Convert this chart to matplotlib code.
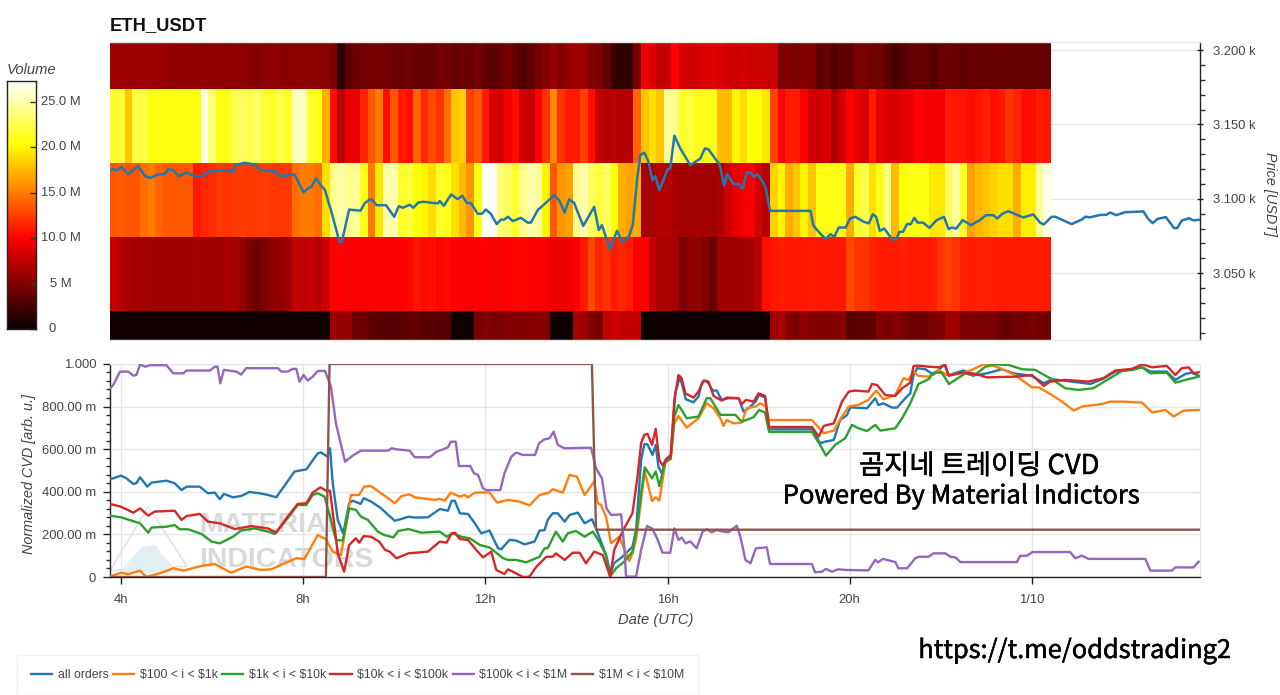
import numpy as np
import matplotlib
matplotlib.use("Agg")
import matplotlib.pyplot as plt
import matplotlib.patheffects as pe
from matplotlib.patches import Polygon
from matplotlib.ticker import FixedLocator, FixedFormatter
from matplotlib.transforms import blended_transform_factory, IdentityTransform

W, H = 1280, 695
plt.rcParams['font.family'] = ['Liberation Sans', 'DejaVu Sans']
plt.rcParams['text.parse_math'] = False

# ---------- heatmap: volume (millions) per 10 minute bin, one list per price band ----------
bin_start = 3.75
bin_hours = 1 / 6
price_edges = [2975, 3024.6, 3074.3, 3124, 3173.8, 3224]

vol_band_1 = [0.3]*29 + [
 6.0,5.5,5.8,4.0,4.0,3.5,3.2,3.0,3.0,3.3,3.5,3.6,3.2,3.2,3.0,3.0,0.3,0.3,0.3,4.5,
 4.8,4.5,4.5,4.8,5.0,5.0,5.0,5.2,4.8,0.3,0.3,0.3,6.5,6.0,5.0,4.5,7.5,8.0,7.5,7.5,
 7.5] + [0.2]*17 + [
 6.0,6.5,5.0,4.5,5.5,5.0,5.0,5.0,5.0,5.2,3.2,3.2,3.5,3.5,5.0,4.5,5.0,4.5,4.0,4.0,
 4.0,4.5,5.0,6.0,6.0,4.5,5.0,4.5,4.5,4.5,3.9,3.8,4.2,4.1,4.5,4.3,4.0]

vol_band_2 = [
 7.5,7.0,6.4,6.2,6.3,6.2,6.0,6.0,6.0,6.0,6.0,6.2,6.0,6.0,6.0,6.5,6.3,5.6,4.6,4.0,
 4.8,5.5,5.5,6.0,7.5,7.3,7.6,7.0,8.0,10.0,10.0,9.8,9.7,9.8,9.9,9.8,9.7,9.8,10.0,10.2,
 10.8,10.4,10.6,10.2,10.4,10.1,10.0,9.9,10.0,10.0,9.8,9.8,10.0,10.1,10.2,10.0,9.9,9.7,9.2,9.2,
 9.4,10.0,11.0,13.0,11.5,12.0,11.0,11.5,11.0,9.8,10.0,7.5,6.5,6.5,6.4,4.5,5.5,5.5,4.8,3.8,
 6.0,6.0,6.0,6.0,6.3,7.0,10.5,10.8,11.0,10.8,11.0,10.8,11.0,10.8,11.0,10.9,10.8,13.0,12.0,12.0,
 11.5,11.0,11.0,11.0,11.2,11.0,11.0,11.0,11.2,12.0,12.5,12.0,11.2,11.0,11.4,11.3,11.2,11.0,11.0,11.1,
 11.0,11.0,11.0,11.0]

vol_band_3 = [
 13.5,13.7,13.4,13.4,14.5,15.0,14.0,13.6,13.6,13.5,13.6,11.0,11.5,11.8,12.2,12.0,12.2,12.4,12.2,12.3,
 12.4,12.2,12.2,12.2,14.5,15.0,15.0,14.5,19.0,24.0,25.0,24.0,24.5,21.0,15.0,19.5,25.0,25.0,21.5,22.0,
 20.5,20.0,19.0,21.5,21.0,19.0,17.5,16.0,21.0,27.0,27.0,23.5,23.0,21.5,24.0,25.0,24.5,20.0,13.5,16.0,
 16.5,24.0,25.0,23.0,22.0,23.0,20.5,17.0,16.5,17.0,6.5,6.5,7.0,7.0,6.5,6.2,6.2,6.3,6.2,6.2,
 6.6,8.0,8.8,9.5,9.8,8.0,7.0,18.5,20.0,17.0,18.0,20.0,18.0,20.7,20.7,20.8,20.8,17.0,21.5,22.5,
 19.0,21.0,24.0,17.5,20.5,21.0,20.8,20.8,19.5,19.5,23.0,24.5,21.5,16.5,17.5,18.0,18.5,19.0,19.0,17.0,
 19.7,19.7,24.5,26.5]

vol_band_4 = [
 21.5,21.8,18.0,22.0,22.0,20.8,20.7,20.6,20.8,20.7,20.7,20.9,26.5,23.5,20.9,20.8,22.5,23.0,22.5,23.2,
 21.8,21.5,22.5,21.5,25.5,25.5,21.5,21.0,17.0,10.5,7.3,9.0,9.0,11.5,13.5,15.0,10.5,13.5,11.0,10.5,
 14.0,11.5,13.0,12.0,14.5,18.0,18.5,12.5,13.5,11.0,8.5,8.0,9.5,10.5,8.0,7.5,10.0,12.0,15.5,12.0,
 11.0,11.0,12.5,10.5,7.5,7.0,7.2,7.0,7.0,14.0,18.0,19.0,18.0,24.5,24.0,21.5,22.0,21.0,21.0,21.0,
 17.5,17.5,20.0,19.0,20.5,20.5,19.5,12.5,10.0,11.0,11.0,10.0,8.0,8.0,8.5,6.5,8.0,10.0,9.0,8.5,
 11.0,9.0,8.5,8.5,8.8,9.0,10.0,9.5,9.5,9.5,11.0,10.8,10.8,10.5,10.8,11.2,10.5,10.8,12.0,11.5,
 10.5,10.5,11.0,10.8]

vol_band_5 = [
 6.0,6.0,5.9,5.9,6.0,5.9,5.9,5.8,5.5,5.6,5.5,5.5,5.4,5.5,5.5,5.4,5.5,5.4,5.2,5.0,
 5.3,5.5,5.3,5.2,5.4,5.3,5.4,5.3,5.3,4.6,1.5,3.4,4.0,4.2,4.4,4.3,4.3,4.1,3.9,4.2,
 3.9,3.7,3.8,4.3,4.2,3.7,4.0,3.9,4.3,3.6,3.2,3.7,4.4,3.6,2.8,3.6,4.3,5.0,5.8,5.0,
 5.8,6.0,6.0,4.8,4.6,3.6,1.9,1.6,1.7,4.3,9.2,8.6,7.4,7.6,10.0,8.2,8.0,8.2,8.6,8.7,
 8.5,8.1,8.0,8.2,8.1,8.0,7.9,7.6,4.6,5.0,4.6,5.0,4.8,3.2,3.8,2.8,3.6,3.6,4.5,4.5,
 4.2,4.2,3.4,2.5,3.0,3.6,3.8,3.8,3.0,3.8,4.0,3.8,3.4,3.7,3.7,3.7,3.8,3.7,3.7,3.7,
 3.8,3.7,3.7,3.7]

# ---------- price ----------
price_t = [3.76,3.83,3.92,4.01,4.16,4.38,4.53,4.64,4.82,4.96,5.04,5.15,5.26,5.44,5.62,5.77,5.95,6.2,6.39,6.45,6.51,6.72,6.93,7.08,7.41,7.5,7.81,8.01,8.1,8.18,8.28,8.39,8.48,8.61,8.72,8.8,8.85,
 9.01,9.26,9.35,9.46,9.53,9.61,9.82,10.0,10.1,10.19,10.34,10.42,10.53,10.63,10.96,11.0,11.09,11.25,11.39,11.5,11.59,11.69,11.83,11.93,12.01,12.12,12.25,12.34,12.41,12.5,12.6,12.78,12.93,13.0,13.15,13.33,13.51,13.62,13.74,13.84,13.95,
 14.01,14.15,14.39,14.49,14.56,14.74,14.89,15.01,15.15,15.24,15.33,15.4,15.49,15.58,15.67,15.73,15.82,16.0,16.06,16.15,16.28,16.5,16.72,16.82,16.9,17.15,17.24,17.31,17.45,17.57,17.65,17.74,17.82,17.9,17.97,18.07,18.15,18.25,19.14,19.2,
 19.27,19.47,19.58,19.66,19.76,19.91,20.01,20.12,20.31,20.42,20.51,20.58,20.66,20.76,20.93,21.02,21.09,21.17,21.26,21.34,21.42,21.49,21.61,21.75,21.91,22.07,22.17,22.24,22.34,22.48,22.66,22.86,22.99,23.15,23.24,23.34,23.48,23.81,24.03,24.18,24.26,24.43,
 24.51,24.87,25.09,25.18,25.27,25.5,25.63,25.72,25.85,26.04,26.45,26.54,26.65,26.76,26.94,27.12,27.19,27.29,27.45,27.54,27.67]
price_v = [3118.6,3120,3119.3,3121.5,3116.6,3122,3115.2,3114,3116.4,3116.6,3120,3119.3,3115.2,3117.7,3115.2,3115.2,3118.6,3118.8,3119.3,3117.7,3122.7,3124.2,3123,3119.3,3118.2,3115.2,3116.4,3104.3,3107,3108,3113.7,3109.2,3105.8,3092.4,3080,3071,3071,
 3092.8,3092,3096.9,3099.6,3099,3095.7,3095.7,3087.9,3095,3094,3096,3094,3097.5,3098,3096.9,3098.5,3095.3,3103,3099.8,3102,3097.3,3096.9,3090,3090,3092.8,3090,3083,3086,3086,3087.9,3085,3087.2,3084,3084,3092.4,3097.3,3102.5,3099,3090.8,3099.6,3097.3,
 3092.4,3081.8,3094.6,3079,3082.3,3066,3078.5,3071,3074.4,3082.7,3112.5,3129.4,3131,3125,3112.5,3115.2,3105.8,3119.7,3120.4,3142.4,3133.9,3122.6,3127.1,3133.9,3133.2,3122.6,3108.7,3116.6,3109.9,3109.9,3107,3117.7,3117.7,3114.8,3116.6,3112.5,3108,3091.9,3091.9,3082.3,
 3079.4,3072.9,3076.2,3074.4,3080.7,3080.7,3086.8,3087.9,3084.5,3083.5,3089.7,3087.9,3078.5,3080,3072.7,3072.7,3077.8,3077.8,3083,3083,3087.2,3084,3084,3080.5,3085.7,3087.9,3079.6,3080.7,3080,3085.7,3082.3,3085.7,3089,3089,3086.8,3089.7,3091.7,3087.5,3089.5,3084,3082.7,3087.9,
 3088,3083,3086,3088,3087.5,3089.2,3089.2,3090.8,3089,3091,3091.5,3087,3083.6,3086.5,3087.7,3080.3,3080.3,3085.4,3087,3085.5,3085.9]

# ---------- normalized CVD per series ----------
all_t = [3.76,3.83,4.0,4.12,4.27,4.34,4.42,4.58,4.67,5.0,5.18,5.33,5.44,5.73,5.91,6.06,6.17,6.26,6.46,6.64,6.82,7.04,7.23,7.41,7.63,7.81,8.07,8.32,8.39,8.53,8.59,8.65,8.76,8.88,9.01,9.09,9.26,9.33,9.49,9.69,
 9.87,10.01,10.2,10.31,10.45,10.74,11.0,11.18,11.26,11.33,11.44,11.62,11.77,11.91,12.09,12.28,12.35,12.53,12.68,12.86,13.08,13.19,13.3,13.37,13.48,13.59,13.74,13.85,14.03,14.18,14.34,14.43,14.58,14.65,14.75,14.82,15.01,15.23,15.31,15.42,15.49,15.56,15.67,15.74,
 15.8,15.88,15.95,16.07,16.17,16.26,16.31,16.4,16.57,16.68,16.75,16.83,16.9,16.99,17.08,17.19,17.34,17.56,17.67,17.78,17.93,18.01,18.14,18.23,19.17,19.35,19.46,19.65,19.79,19.94,20.01,20.38,20.56,20.63,20.74,20.93,21.04,21.22,21.33,21.4,21.48,
 21.66,21.84,22.08,22.17,22.5,22.79,23.01,23.34,23.6,24.0,24.26,24.44,24.88,25.28,25.54,25.83,26.2,26.42,26.6,26.96,27.15,27.37,27.51,27.66]
all_v = [.46,.463,.476,.463,.437,.44,.468,.424,.443,.452,.44,.408,.424,.424,.393,.396,.365,.39,.374,.38,.399,.393,.385,.374,.44,.495,.505,.58,.585,.565,.604,.44,.268,.205,.346,.358,.343,.37,.354,.326,
 .291,.264,.275,.283,.279,.28,.319,.311,.357,.358,.299,.296,.252,.205,.218,.135,.13,.174,.171,.153,.166,.218,.22,.268,.299,.299,.26,.291,.302,.252,.271,.228,.142,.103,.017,.064,.095,.142,.22,.549,.623,.623,.573,.62,
 .518,.484,.549,.573,.862,.933,.912,.834,.82,.847,.909,.922,.909,.875,.875,.831,.839,.839,.776,.792,.823,.854,.843,.693,.693,.628,.635,.643,.737,.76,.796,.792,.839,.807,.815,.795,.795,.839,.862,.948,.98,
 .975,.95,.997,.948,.969,.948,.956,.975,.956,.944,.909,.928,.917,.906,.928,.964,.972,.984,.964,.964,.925,.953,.959,.945]

o_t = [3.76,4.0,4.16,4.42,4.56,4.89,5.15,5.37,5.77,6.06,6.42,6.75,7.08,7.3,7.59,7.85,8.03,8.32,8.5,8.65,8.83,8.94,9.05,9.23,9.34,9.49,9.69,9.87,10.01,10.16,10.34,10.45,10.89,11.0,11.11,11.24,11.44,11.55,11.62,11.77,12.09,12.26,12.5,12.75,12.97,13.19,13.41,13.48,13.7,13.85,14.01,14.18,14.39,14.47,14.54,14.65,14.76,14.94,15.16,15.23,15.31,15.42,15.5,15.66,15.74,15.82,15.95,16.07,16.15,16.24,16.42,16.68,16.86,17.01,17.16,17.23,17.3,17.45,17.63,17.74,17.93,18.04,18.16,18.23,19.17,19.43,19.65,19.83,19.98,20.19,20.41,20.58,20.74,21.0,21.18,21.29,21.4,21.51,21.73,21.95,22.13,22.46,22.68,22.94,23.08,23.3,23.63,24.0,24.15,24.44,24.66,24.92,25.1,25.54,25.72,26.05,26.42,26.64,26.93,27.11,27.33,27.66]
o_v = [.002,.02,.013,.03,0,.02,.041,.03,.052,.061,.02,.049,.033,.036,.064,.088,.085,.197,.177,.119,.103,.236,.385,.385,.424,.427,.396,.369,.346,.38,.388,.374,.362,.367,.358,.396,.377,.385,.374,.396,.397,.349,.362,.354,.336,.385,.397,.412,.396,.479,.471,.385,.448,.346,.338,.283,.158,.189,.075,.111,.174,.362,.495,.357,.374,.358,.534,.557,.721,.756,.701,.745,.815,.792,.745,.709,.737,.721,.725,.792,.8,.815,.8,.737,.737,.675,.687,.753,.8,.808,.831,.875,.834,.854,.933,.925,.964,.944,.94,.972,.948,.956,.972,.998,.998,.98,.948,.89,.89,.854,.823,.781,.8,.812,.823,.823,.818,.772,.784,.753,.781,.784]

g_t = [3.76,4.0,4.42,4.6,4.67,5.0,5.18,5.29,5.47,5.77,5.99,6.17,6.46,6.64,6.93,7.23,7.37,7.66,7.88,8.07,8.21,8.32,8.47,8.61,8.72,8.87,9.01,9.16,9.27,9.42,9.64,9.78,9.98,10.09,10.31,10.6,11.0,11.15,11.29,11.47,11.66,11.88,12.09,12.39,12.5,12.68,12.9,13.19,13.3,13.37,13.55,13.7,13.81,13.99,14.18,14.36,14.5,14.65,14.74,14.87,15.05,15.23,15.34,15.42,15.5,15.66,15.74,15.82,15.95,16.07,16.15,16.24,16.31,16.42,16.68,16.86,16.94,17.16,17.49,17.63,17.89,18.01,18.14,18.23,19.17,19.35,19.48,19.68,19.9,20.05,20.19,20.38,20.56,20.67,21.0,21.15,21.33,21.51,21.73,21.84,22.02,22.18,22.54,22.72,22.98,23.2,23.49,23.78,24.07,24.44,24.73,25.02,25.35,25.65,25.98,26.42,26.6,26.96,27.15,27.37,27.66]
g_v = [.288,.28,.252,.208,.232,.236,.244,.224,.224,.202,.166,.158,.189,.218,.228,.213,.202,.275,.338,.338,.385,.393,.377,.268,.174,.171,.322,.315,.283,.268,.213,.197,.186,.216,.225,.208,.213,.189,.205,.189,.182,.15,.139,.088,.08,.08,.069,.095,.135,.135,.213,.166,.205,.216,.189,.213,.166,.103,.002,.041,.072,.119,.252,.393,.515,.463,.495,.427,.541,.554,.753,.807,.784,.745,.753,.839,.839,.761,.761,.729,.75,.784,.772,.681,.681,.62,.57,.62,.651,.714,.698,.685,.714,.687,.698,.745,.815,.906,.928,.959,.959,.906,.956,.944,.987,.998,.995,.975,.972,.928,.886,.878,.886,.925,.967,.984,.956,.959,.912,.925,.94]

r_t = [3.76,4.0,4.27,4.42,4.6,4.74,5.18,5.33,5.44,5.73,5.91,6.17,6.5,6.86,7.23,7.41,7.63,7.88,8.07,8.21,8.38,8.5,8.59,8.69,8.76,8.9,9.01,9.16,9.23,9.33,9.49,9.67,9.8,9.9,10.05,10.31,10.74,11.0,11.15,11.26,11.33,11.44,11.62,11.8,11.95,12.13,12.24,12.42,12.5,12.83,12.97,13.12,13.34,13.48,13.55,13.74,13.92,14.07,14.21,14.39,14.58,14.74,14.83,15.01,15.23,15.34,15.42,15.49,15.56,15.66,15.74,15.82,15.89,15.99,16.07,16.15,16.24,16.31,16.39,16.57,16.68,16.79,16.9,17.01,17.19,17.3,17.56,17.63,17.72,17.89,18.0,18.14,18.23,19.17,19.32,19.43,19.65,19.83,19.98,20.12,20.41,20.49,20.6,20.78,21.0,21.15,21.33,21.4,21.51,21.73,21.95,22.1,22.17,22.46,22.76,23.01,23.6,24.0,24.26,24.4,24.73,25.24,25.57,25.83,26.2,26.42,26.64,26.96,27.15,27.29,27.44,27.55,27.66]
r_v = [.343,.33,.302,.322,.288,.307,.311,.268,.286,.296,.26,.252,.225,.239,.228,.208,.275,.343,.346,.396,.421,.405,.405,.236,.111,.025,.15,.182,.161,.192,.189,.166,.127,.119,.088,.111,.119,.166,.161,.205,.208,.178,.174,.127,.092,.119,.033,.014,.036,0,.002,.048,.095,.095,.111,.08,.114,.114,.064,.119,.103,.002,.127,.213,.299,.47,.628,.667,.672,.62,.695,.549,.524,.557,.565,.831,.948,.933,.862,.842,.87,.922,.917,.85,.828,.842,.839,.811,.831,.823,.862,.85,.704,.704,.659,.709,.721,.823,.87,.875,.87,.906,.901,.854,.85,.886,.912,.99,.992,.987,.984,.995,.944,.959,.953,.937,.94,.948,.897,.917,.925,.917,.933,.969,.977,.998,.984,.991,.948,.98,.984,.956,.961]

p_t = [3.76,3.83,3.98,4.16,4.27,4.34,4.42,4.53,4.64,5.0,5.15,5.37,5.44,5.95,6.06,6.12,6.18,6.26,6.53,6.64,6.75,7.45,7.52,7.66,7.77,7.85,7.92,8.01,8.1,8.21,8.32,8.48,8.61,8.72,8.92,9.09,9.27,9.87,9.94,10.05,10.34,10.45,10.78,10.93,11.07,11.18,11.24,11.35,11.42,11.67,11.75,11.84,11.95,12.02,12.33,12.42,12.57,12.68,12.82,13.09,13.18,13.3,13.41,13.5,13.59,13.74,14.32,14.43,14.56,14.66,14.76,14.98,15.05,15.09,15.31,15.42,15.55,15.66,15.77,15.89,16.06,16.15,16.24,16.31,16.4,16.5,16.64,16.77,16.86,16.97,17.08,17.19,17.34,17.52,17.6,17.71,17.82,17.94,18.18,18.25,19.17,19.24,19.39,19.48,19.61,19.74,19.94,20.41,20.56,20.62,20.73,21.0,21.07,21.26,21.44,21.51,21.73,21.84,22.1,22.21,22.32,22.43,23.67,23.74,23.89,24.01,24.84,24.95,25.1,25.24,26.49,26.6,27.07,27.15,27.55,27.66]
p_v = [.886,.901,.964,.964,.945,.948,.998,.987,.994,.994,.956,.956,.969,.969,.987,.987,.909,.972,.964,.95,.98,.98,.964,.964,.977,.977,.917,.948,.922,.94,.967,.967,.894,.721,.541,.57,.593,.593,.604,.599,.593,.562,.562,.588,.599,.609,.635,.635,.521,.521,.487,.479,.416,.408,.408,.487,.565,.584,.573,.573,.628,.646,.651,.682,.62,.604,.607,.51,.463,.322,.291,.294,.142,.002,.002,.127,.239,.228,.182,.114,.114,.228,.174,.185,.158,.167,.135,.213,.224,.21,.221,.214,.21,.241,.189,.08,.064,.135,.139,.061,.061,.022,.025,.038,.025,.036,.033,.031,.08,.069,.085,.07,.041,.041,.088,.095,.095,.111,.111,.095,.092,.07,.07,.099,.1,.117,.117,.088,.1,.085,.085,.03,.03,.045,.045,.072]

m_t = [3.76,8.5,8.58,14.34,14.43,27.69]
m_v = [0,0,1,1,.222,.222]

series_labels = ['all orders', '$100 < i < $1k', '$1k < i < $10k', '$10k < i < $100k', '$100k < i < $1M', '$1M < i < $10M']
series_t = [all_t, o_t, g_t, r_t, p_t, m_t]
series_v = [all_v, o_v, g_v, r_v, p_v, m_v]
series_colors = ['#1f77b4', '#ff7f0e', '#2ca02c', '#d62728', '#9467bd', '#8c564b']

hour_ticks = [4, 8, 12, 16, 20, 24]
hour_labels = ['4h', '8h', '12h', '16h', '20h', '1/10']
price_ticks = [3050, 3100, 3150, 3200]
price_labels = ['3.050 k', '3.100 k', '3.150 k', '3.200 k']
cvd_ticks = [0, .2, .4, .6, .8, 1]
cvd_labels = ['0', '200.00 m', '400.00 m', '600.00 m', '800.00 m', '1.000']
vol_ticks = [0, 5, 10, 15, 20, 25]
vol_labels = ['0', '5 M', '10.0 M', '15.0 M', '20.0 M', '25.0 M']

TXT = '#444444'
GRID = '#e6e6e6'
FS = 9.4


def axpx(x0, y0, x1, y1):
    return fig.add_axes([x0 / W, 1 - y1 / H, (x1 - x0) / W, (y1 - y0) / H])


def ftext(x, y, s, **kw):
    kw.setdefault('ha', 'center')
    kw.setdefault('va', 'center')
    return fig.text(x / W, 1 - y / H, s, **kw)


fig = plt.figure(figsize=(W / 100, H / 100), dpi=100)
XLIM = (3.76, 27.69)

# ---------- top ----------
ax = axpx(110, 42, 1200, 340)
volumes = np.array([vol_band_1, vol_band_2, vol_band_3, vol_band_4, vol_band_5])
x_edges = bin_start + bin_hours * np.arange(volumes.shape[1] + 1)
ax.set_axisbelow(True)
ax.grid(axis='y', color=GRID, lw=1)
ax.pcolormesh(x_edges, price_edges, volumes, cmap='hot', vmin=0, vmax=27.3, zorder=2)
ax.plot(price_t, price_v, color='#2277ae', lw=1.8, zorder=3, solid_joinstyle='round')
ax.set_xlim(XLIM)
ax.set_ylim(3005.1, 3205.4)
ax.set_xticks([])
ax.yaxis.tick_right()
ax.yaxis.set_major_locator(FixedLocator(price_ticks))
ax.yaxis.set_major_formatter(FixedFormatter(price_labels))
ax.yaxis.set_minor_locator(FixedLocator(np.arange(3010, 3205, 10)))
ax.tick_params(axis='y', which='major', length=5, width=1, color='#222222', labelcolor=TXT,
               labelsize=FS, pad=7, direction='inout')
ax.tick_params(axis='y', which='minor', length=3.5, width=1, color='#333333')
ax.spines['left'].set_visible(False)
for side in ['top', 'bottom']:
    ax.spines[side].set_color(GRID)
    ax.spines[side].set_linewidth(1)
ax.spines['right'].set_color('#222222')
ax.spines['right'].set_linewidth(1)

ftext(110, 26, 'ETH_USDT', ha='left', fontsize=13.2, fontweight='bold', color='#111111')
ftext(1270, 194, 'Price [USDT]', rotation=-90, style='italic', fontsize=10.4, color=TXT)

# ---------- colour bar ----------
cax = axpx(7, 81, 36, 329)
gradient = np.linspace(27.3, 0, 256).reshape(-1, 1)
cax.imshow(gradient, cmap='hot', vmin=0, vmax=27.3, aspect='auto', extent=[0, 1, 0, 27.3])
cax.set_xticks([])
cax.set_yticks(vol_ticks)
cax.set_yticklabels([])
cax.tick_params(axis='y', length=4, width=1, direction='in', right=True, left=False, color='#333333')
for s in cax.spines.values():
    s.set_color('#222222')
    s.set_linewidth(1)
cbar_label_tf = blended_transform_factory(IdentityTransform(), cax.transData)
for v, lab in zip(vol_ticks, vol_labels):
    cax.text(52 if v == 0 else 61, v, lab, transform=cbar_label_tf,
             ha='center', va='center', fontsize=FS, color=TXT, clip_on=False)
ftext(7, 70, 'Volume', ha='left', style='italic', fontsize=10.6, color=TXT)

# ---------- bottom ----------
bx = axpx(110, 363.5, 1200, 577)
bx.set_axisbelow(True)
bx.grid(True, color=GRID, lw=1)
bx.add_patch(Polygon([(3.76, .03), (4.6, .33), (5.45, .05)], closed=True, fill=False,
                     ec='#e4e4e4', lw=1.2, zorder=1))
bx.add_patch(Polygon([(3.95, .02), (4.45, .14), (4.75, .15), (5.0, .08), (5.3, .02)], closed=True,
                     fc='#e2eff3', ec='none', zorder=1))
bx.text(5.71, .245, 'MATERIAL', fontsize=20.5, fontweight='bold', color='#d9d9d9', va='center', ha='left', zorder=1)
bx.text(5.71, .082, 'INDICATORS', fontsize=20.5, fontweight='bold', color='#d9d9d9', va='center', ha='left', zorder=1)
handles = []
for t, v, c, lab in zip(series_t, series_v, series_colors, series_labels):
    handles += bx.plot(t, v, color=c, lw=1.7, label=lab, zorder=3, solid_joinstyle='round')
bx.set_xlim(XLIM)
bx.set_ylim(0, 1.002)
bx.xaxis.set_major_locator(FixedLocator(hour_ticks))
bx.xaxis.set_major_formatter(FixedFormatter(hour_labels))
bx.yaxis.set_major_locator(FixedLocator(cvd_ticks))
bx.yaxis.set_major_formatter(FixedFormatter(cvd_labels))
bx.yaxis.set_minor_locator(FixedLocator(np.arange(0, 1.001, .04)))
bx.tick_params(axis='both', which='major', length=5, width=1, color='#222222', labelcolor=TXT, labelsize=FS)
bx.tick_params(axis='x', pad=7)
bx.tick_params(axis='y', which='minor', length=3, width=1, color='#333333')
bx.tick_params(axis='y', pad=5)
for side in ['top', 'right']:
    bx.spines[side].set_color(GRID)
for side in ['left', 'bottom']:
    bx.spines[side].set_color('#222222')
    bx.spines[side].set_linewidth(1)

ftext(29, 474, 'Normalized CVD [arb. u.]', rotation=90, style='italic', fontsize=10.4, color=TXT)
ftext(656, 620, 'Date (UTC)', style='italic', fontsize=10.6, color=TXT)

# ---------- legend ----------
leg = fig.legend(handles=handles, loc='lower left', bbox_to_anchor=(17 / W, 0), ncol=6, frameon=True,
                 fontsize=8.8, handlelength=1.75, handletextpad=0.45, columnspacing=0.35, borderpad=1.15,
                 borderaxespad=0, fancybox=False, edgecolor='#eeeeee', labelcolor=TXT)
leg.get_frame().set_linewidth(1)

# ---------- overlaid captions ----------
cap_font = ['Noto Sans CJK KR', 'DejaVu Sans']
heavy = [pe.withStroke(linewidth=0.35, foreground='black')]
ftext(979, 466.5, '곰지네 트레이딩 CVD', family=cap_font, fontsize=19.7, color='black', zorder=10, path_effects=heavy)
ftext(962, 496.5, 'Powered By Material Indictors', family=cap_font, fontsize=18.4, color='black', zorder=10, path_effects=heavy)
ftext(1075, 651, 'https://t.me/oddstrading2', family=cap_font, fontsize=18.3, color='black', zorder=10, path_effects=heavy)

fig.savefig('out.png', dpi=100)
